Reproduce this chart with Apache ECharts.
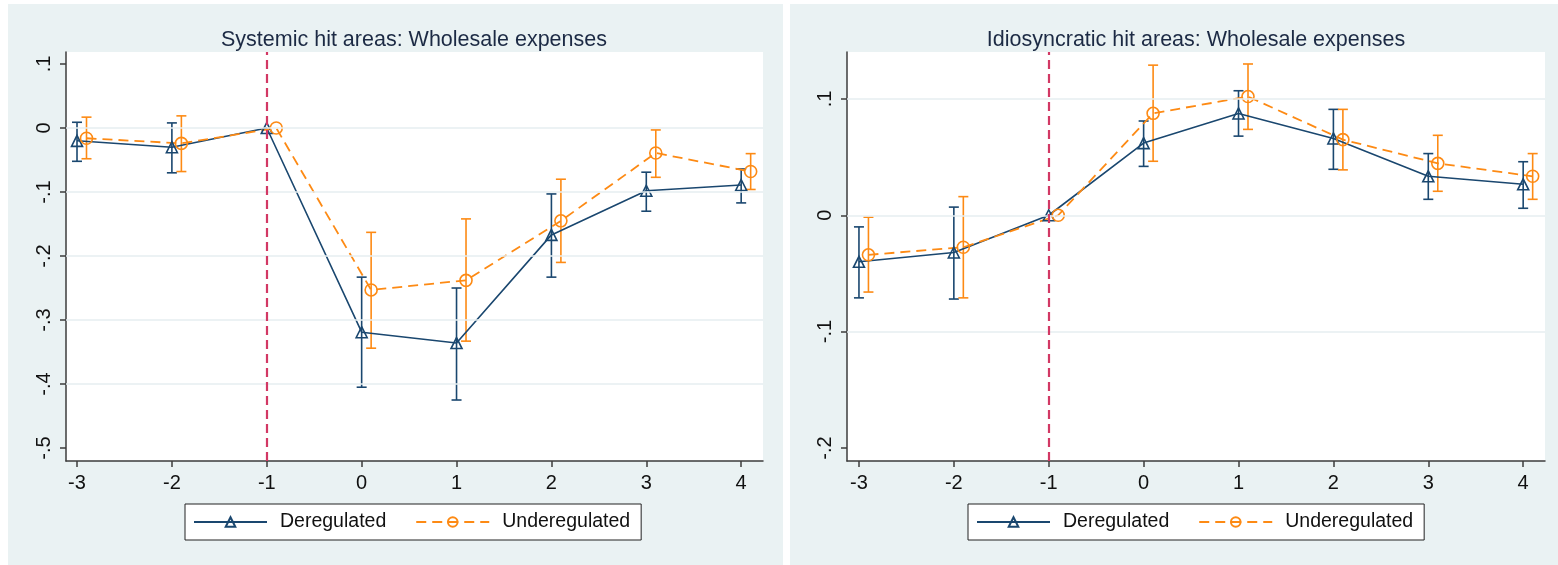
<!DOCTYPE html>
<html>
<head>
<meta charset="utf-8">
<script src="https://cdn.jsdelivr.net/npm/echarts@6/dist/echarts.min.js"></script>
<style>
  html, body { margin: 0; padding: 0; background: #fff; }
  #main { width: 1558px; height: 565px; }
</style>
</head>
<body>
<div id="main"></div>
<script>
// event time (periods relative to treatment)
var periods = [-3, -2, -1, 0, 1, 2, 3, 4];
var xTicks = [-3, -2, -1, 0, 1, 2, 3, 4];
var dodge = 0.1; // underregulated markers are shifted right

// systemic hit areas
var sysDeregY  = [-0.020, -0.030, 0, -0.319, -0.336, -0.167, -0.098, -0.089];
var sysDeregLo = [-0.052, -0.070, null, -0.405, -0.425, -0.233, -0.130, -0.117];
var sysDeregHi = [0.009, 0.008, null, -0.233, -0.250, -0.103, -0.069, -0.064];
var sysUnderY  = [-0.016, -0.024, 0, -0.253, -0.238, -0.145, -0.039, -0.068];
var sysUnderLo = [-0.048, -0.068, null, -0.344, -0.333, -0.210, -0.077, -0.096];
var sysUnderHi = [0.017, 0.019, null, -0.163, -0.142, -0.080, -0.003, -0.040];
var sysTicks   = [-0.5, -0.4, -0.3, -0.2, -0.1, 0, 0.1];
var sysGrid    = [-0.4, -0.3, -0.2, -0.1, 0];

// idiosyncratic hit areas
var idioDeregY  = [-0.040, -0.032, 0, 0.062, 0.0875, 0.066, 0.0335, 0.0266];
var idioDeregLo = [-0.071, -0.072, null, 0.042, 0.068, 0.0395, 0.0137, 0.006];
var idioDeregHi = [-0.010, 0.007, null, 0.081, 0.107, 0.091, 0.053, 0.046];
var idioUnderY  = [-0.034, -0.0275, 0, 0.0876, 0.102, 0.065, 0.0446, 0.0335];
var idioUnderLo = [-0.066, -0.071, null, 0.0464, 0.0738, 0.039, 0.0206, 0.0137];
var idioUnderHi = [-0.0017, 0.016, null, 0.129, 0.130, 0.091, 0.0687, 0.053];
var idioTicks   = [-0.2, -0.1, 0, 0.1];
var idioGrid    = [-0.1, 0, 0.1];

var NAVY = '#1a476f';
var ORANGE = '#fd8a14';
var CRANBERRY = '#d23864';
var PANEL_BG = '#eaf2f3';
var FONT = 'Liberation Sans, Arial, sans-serif';

function pts(xs, ys, shift) {
    return xs.map(function (x, i) { return [x + shift, ys[i]]; });
}
function bars(xs, lo, hi, shift) {
    var out = [];
    xs.forEach(function (x, i) {
        if (lo[i] != null) out.push([x + shift, lo[i], hi[i]]);
    });
    return out;
}
function fmtY(v) {
    if (Math.abs(v) < 1e-9) return '0';
    return (+v.toFixed(1)).toString().replace(/^(-?)0\./, '$1.');
}

function errorBars(color) {
    return function (params, api) {
        var x = api.value(0);
        var top = api.coord([x, api.value(2)]);
        var bot = api.coord([x, api.value(1)]);
        var w = 5;
        var st = { stroke: color, lineWidth: 1.6 };
        return {
            type: 'group',
            children: [
                { type: 'line', shape: { x1: top[0], y1: top[1], x2: bot[0], y2: bot[1] }, style: st },
                { type: 'line', shape: { x1: top[0] - w, y1: top[1], x2: top[0] + w, y2: top[1] }, style: st },
                { type: 'line', shape: { x1: bot[0] - w, y1: bot[1], x2: bot[0] + w, y2: bot[1] }, style: st }
            ]
        };
    };
}

function panelSeries(idx, dY, dLo, dHi, uY, uLo, uHi, gridVals) {
    var marks = gridVals.map(function (v) {
        return { yAxis: v, lineStyle: { color: '#e6eef0', width: 1.5, type: 'solid' } };
    });
    marks.push({ xAxis: -1, lineStyle: { color: CRANBERRY, width: 2.2, type: [9, 5] } });
    return [
        {
            name: 'ref' + idx, type: 'line', xAxisIndex: idx, yAxisIndex: idx,
            data: [], silent: true, z: 1,
            markLine: { silent: true, symbol: 'none', label: { show: false }, animation: false, data: marks }
        },
        {
            name: 'dci' + idx, type: 'custom', xAxisIndex: idx, yAxisIndex: idx,
            renderItem: errorBars(NAVY), encode: { x: 0, y: [1, 2] },
            data: bars(periods, dLo, dHi, 0), z: 3, silent: true
        },
        {
            name: 'uci' + idx, type: 'custom', xAxisIndex: idx, yAxisIndex: idx,
            renderItem: errorBars(ORANGE), encode: { x: 0, y: [1, 2] },
            data: bars(periods, uLo, uHi, dodge), z: 3, silent: true
        },
        {
            name: 'Deregulated', type: 'line', xAxisIndex: idx, yAxisIndex: idx,
            data: pts(periods, dY, 0), symbol: 'triangle', symbolSize: 11,
            lineStyle: { color: NAVY, width: 1.6 },
            itemStyle: { color: 'rgba(255,255,255,0)', borderColor: NAVY, borderWidth: 1.6 },
            z: 4
        },
        {
            name: 'Underegulated', type: 'line', xAxisIndex: idx, yAxisIndex: idx,
            data: pts(periods, uY, dodge), symbol: 'circle', symbolSize: 12,
            lineStyle: { color: ORANGE, width: 1.8, type: [10, 6] },
            itemStyle: { color: 'rgba(255,255,255,0)', borderColor: ORANGE, borderWidth: 1.6 },
            z: 4
        }
    ];
}

function xAxisFor(idx, min, max) {
    return {
        type: 'value', gridIndex: idx, min: min, max: max,
        axisLine: { show: true, onZero: false, lineStyle: { color: '#3c3c3c', width: 1.5 } },
        axisTick: { show: true, length: 6, customValues: xTicks, lineStyle: { color: '#3c3c3c', width: 1.5 } },
        axisLabel: { customValues: xTicks, margin: 12, color: '#111', fontSize: 20, fontFamily: FONT },
        splitLine: { show: false }
    };
}
function yAxisFor(idx, min, max, ticks) {
    return {
        type: 'value', gridIndex: idx, min: min, max: max,
        axisLine: { show: true, onZero: false, lineStyle: { color: '#3c3c3c', width: 1.5 } },
        axisTick: { show: true, length: 6, customValues: ticks, lineStyle: { color: '#3c3c3c', width: 1.5 } },
        axisLabel: { customValues: ticks, rotate: 90, margin: 12, color: '#111', fontSize: 20, fontFamily: FONT, formatter: fmtY },
        splitLine: { show: false }
    };
}
function legendAt(left) {
    return {
        left: left, top: 504, height: 37,
        data: ['Deregulated', 'Underegulated'],
        backgroundColor: '#fff', borderColor: '#222', borderWidth: 1,
        padding: [8, 11, 8, 8], itemGap: 29, itemWidth: 73, itemHeight: 12,
        textStyle: { fontSize: 19.5, color: '#111', fontFamily: FONT, padding: [0, 0, 0, 8] },
        selectedMode: false
    };
}

var chart = echarts.init(document.getElementById('main'), null, { renderer: 'canvas' });

var option = {
    animation: false,
    backgroundColor: '#fff',
    graphic: [
        { type: 'rect', z: -10, shape: { x: 8, y: 4, width: 775, height: 561 }, style: { fill: PANEL_BG } },
        { type: 'rect', z: -10, shape: { x: 790, y: 4, width: 768, height: 561 }, style: { fill: PANEL_BG } }
    ],
    title: [
        { text: 'Systemic hit areas: Wholesale expenses', left: 409, top: 24, textAlign: 'center',
          textStyle: { fontSize: 21.5, fontWeight: 'normal', color: '#1c2a44', fontFamily: FONT } },
        { text: 'Idiosyncratic hit areas: Wholesale expenses', left: 1191, top: 24, textAlign: 'center',
          textStyle: { fontSize: 21.5, fontWeight: 'normal', color: '#1c2a44', fontFamily: FONT } }
    ],
    legend: [legendAt(185), legendAt(968)],
    grid: [
        { left: 66, top: 52, width: 697, height: 409, show: true, backgroundColor: '#fff', borderWidth: 0 },
        { left: 847, top: 52, width: 698, height: 409, show: true, backgroundColor: '#fff', borderWidth: 0 }
    ],
    xAxis: [xAxisFor(0, -3.116, 4.23), xAxisFor(1, -3.126, 4.23)],
    yAxis: [yAxisFor(0, -0.5203, 0.1188, sysTicks), yAxisFor(1, -0.2112, 0.1403, idioTicks)],
    series: [].concat(
        panelSeries(0, sysDeregY, sysDeregLo, sysDeregHi, sysUnderY, sysUnderLo, sysUnderHi, sysGrid),
        panelSeries(1, idioDeregY, idioDeregLo, idioDeregHi, idioUnderY, idioUnderLo, idioUnderHi, idioGrid)
    )
};

chart.setOption(option);
window.onresize = chart.resize;
</script>
</body>
</html>
